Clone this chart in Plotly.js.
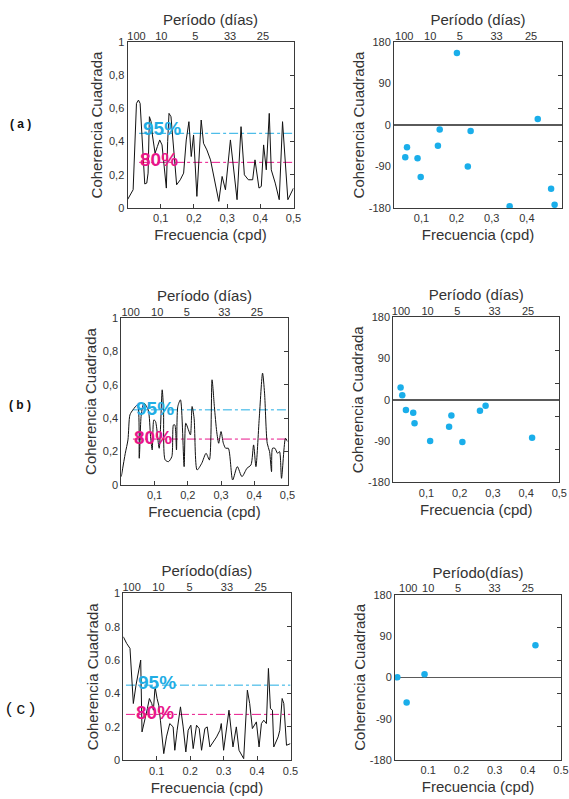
<!DOCTYPE html>
<html>
<head>
<meta charset="utf-8">
<script src="https://cdn.plot.ly/plotly-3.0.1.min.js"></script>
<style>html,body{margin:0;padding:0;background:#fff}#chart{width:569px;height:799px}</style>
</head>
<body>
<div id="chart"></div>
<script>
// ---------- DATA ----------
// (a) coherence spectrum
const freqA = [0, 0.017, 0.027, 0.033, 0.038, 0.045, 0.052, 0.058, 0.062, 0.066, 0.071, 0.075, 0.083, 0.090, 0.097, 0.104, 0.110, 0.117, 0.121, 0.125, 0.131, 0.138, 0.148, 0.159, 0.169, 0.177, 0.185, 0.192, 0.199, 0.209, 0.215, 0.222, 0.229, 0.239, 0.250, 0.262, 0.275, 0.285, 0.295, 0.310, 0.330, 0.342, 0.352, 0.364, 0.377, 0.384, 0.396, 0.403, 0.410, 0.418, 0.427, 0.433, 0.445, 0.457, 0.467, 0.483, 0.500];
const cohA  = [0.05, 0.11, 0.63, 0.65, 0.63, 0.40, 0.145, 0.15, 0.21, 0.55, 0.52, 0.44, 0.33, 0.37, 0.41, 0.38, 0.25, 0.12, 0.40, 0.57, 0.55, 0.40, 0.14, 0.17, 0.21, 0.41, 0.52, 0.31, 0.44, 0.07, 0.30, 0.53, 0.39, 0.35, 0.29, 0.17, 0.04, 0.19, 0.11, 0.41, 0.05, 0.49, 0.20, 0.17, 0.17, 0.29, 0.12, 0.13, 0.38, 0.23, 0.57, 0.23, 0.15, 0.05, 0.52, 0.05, 0.12];
// (b) coherence spectrum
const freqB = [0, 0.012, 0.020, 0.026, 0.035, 0.049, 0.054, 0.060, 0.068, 0.081, 0.088, 0.093, 0.098, 0.103, 0.114, 0.123, 0.127, 0.132, 0.142, 0.152, 0.157, 0.161, 0.166, 0.170, 0.178, 0.189, 0.194, 0.202, 0.208, 0.213, 0.219, 0.228, 0.242, 0.255, 0.265, 0.273, 0.280, 0.287, 0.293, 0.300, 0.307, 0.314, 0.322, 0.335, 0.349, 0.363, 0.378, 0.390, 0.398, 0.405, 0.415, 0.425, 0.431, 0.439, 0.446, 0.452, 0.455, 0.462, 0.470, 0.476, 0.482, 0.494, 0.500];
const cohB  = [0.05, 0.19, 0.27, 0.42, 0.45, 0.48, 0.16, 0.42, 0.49, 0.45, 0.29, 0.21, 0.39, 0.38, 0.22, 0.57, 0.45, 0.15, 0.14, 0.17, 0.36, 0.36, 0.21, 0.47, 0.51, 0.11, 0.37, 0.33, 0.30, 0.47, 0.40, 0.09, 0.13, 0.19, 0.15, 0.63, 0.47, 0.32, 0.25, 0.32, 0.25, 0.22, 0.22, 0.03, 0.11, 0.05, 0.10, 0.12, 0.24, 0.11, 0.40, 0.67, 0.55, 0.25, 0.20, 0.08, 0.22, 0.22, 0.19, 0.20, 0.04, 0.28, 0.26];
// (c) coherence spectrum
const freqC = [0, 0.010, 0.020, 0.030, 0.038, 0.045, 0.052, 0.056, 0.065, 0.072, 0.078, 0.085, 0.090, 0.095, 0.101, 0.106, 0.111, 0.121, 0.129, 0.139, 0.149, 0.154, 0.161, 0.171, 0.179, 0.187, 0.194, 0.202, 0.209, 0.219, 0.227, 0.234, 0.244, 0.251, 0.259, 0.279, 0.289, 0.293, 0.300, 0.316, 0.328, 0.338, 0.346, 0.360, 0.371, 0.378, 0.386, 0.398, 0.406, 0.413, 0.420, 0.428, 0.434, 0.440, 0.446, 0.450, 0.463, 0.468, 0.475, 0.480, 0.488, 0.500];
const cohC  = [0.74, 0.70, 0.67, 0.34, 0.45, 0.52, 0.60, 0.17, 0.24, 0.31, 0.37, 0.34, 0.30, 0.44, 0.37, 0.33, 0.24, 0.04, 0.14, 0.22, 0.20, 0.06, 0.18, 0.32, 0.20, 0.05, 0.18, 0.21, 0.07, 0.21, 0.19, 0.06, 0.19, 0.20, 0.08, 0.14, 0.18, 0.22, 0.06, 0.30, 0.08, 0.20, 0.06, 0.01, 0.42, 0.34, 0.19, 0.23, 0.08, 0.22, 0.24, 0.22, 0.55, 0.31, 0.30, 0.08, 0.14, 0.18, 0.37, 0.34, 0.09, 0.10];
// phase (degrees)
const phaseFreqA = [0.201, 0.431, 0.152, 0.240, 0.059, 0.147, 0.054, 0.089, 0.098, 0.232, 0.351, 0.469, 0.479];
const phaseA     = [156, 13, -10, -13, -48, -45, -70, -72, -113, -90, -176, -138, -173];
const phaseFreqB = [0.022, 0.027, 0.038, 0.060, 0.064, 0.111, 0.168, 0.175, 0.208, 0.261, 0.278, 0.418];
const phaseB     = [27, 10, -22, -28, -51, -90, -59, -34, -92, -24, -13, -83];
const phaseFreqC = [0.007, 0.035, 0.089, 0.423];
const phaseC     = [0, -55, 7, 70];
// significance levels
const level95 = 0.45;
const level80 = 0.275;
const levelStart = [0.035, 0.035, 0.008];
// tick labels
const freqTicks = [0.1, 0.2, 0.3, 0.4, 0.5];
const freqLabelsComma = ['0,1', '0,2', '0,3', '0,4', '0,5'];
const freqLabelsDot = ['0.1', '0.2', '0.3', '0.4', '0.5'];
const cohTicks = [0, 0.2, 0.4, 0.6, 0.8, 1];
const cohLabelsComma = ['0', '0,2', '0,4', '0,6', '0,8', '1'];
const cohLabelsDot = ['0', '0.2', '0.4', '0.6', '0.8', '1'];
const phaseTicks = [-180, -90, 0, 90, 180];
const phaseLabels = ['-180', '-90', '0', '90', '180'];
const periodLabels = ['100', '10', '5', '33', '25'];
const periodPosCohA = [0.027, 0.102, 0.204, 0.309, 0.408];
const periodPosCohB = [0.028, 0.108, 0.197, 0.310, 0.408];
const periodPosCohC = [0.025, 0.105, 0.198, 0.310, 0.411];
const periodPosPhA = [0.051, 0.125, 0.209, 0.314, 0.412];
const periodPosPhB = [0.023, 0.103, 0.193, 0.305, 0.406];
const periodPosPhC = [0.040, 0.100, 0.190, 0.300, 0.400];
const cohMirrorTicks = [0.2, 0.4, 0.6, 0.8];
const phaseMirrorTicks = [-108, -36, 36, 108];
const panelLabels = ['( a )', '( b )', '( c )'];

// ---------- LAYOUT ----------
const W = 569, H = 799;
const FONT = 'Liberation Sans, Arial, Helvetica, sans-serif';
const TXT = '#333333';
const AX = '#3a3a3a';
const CYAN = '#22ade4';
const MAG = '#e8168a';
const DOT = '#1aaeea';

const panels = [
  {kind:'coh', px:[127.5,293.5], py:[42,208], xr:[0,0.5], f:freqA, v:cohA, per:periodPosCohA, xl:freqLabelsComma, yl:cohLabelsComma, top:'Período (días)', row:0, shape:'linear'},
  {kind:'ph',  px:[394,562],     py:[42,208], xr:[0.022,0.5], f:phaseFreqA, v:phaseA, per:periodPosPhA, xl:freqLabelsComma, top:'Período (días)', row:0},
  {kind:'coh', px:[121.3,287.5], py:[318,485], xr:[0,0.5], f:freqB, v:cohB, per:periodPosCohB, xl:freqLabelsComma, yl:cohLabelsComma, top:'Período (días)', row:1, shape:'spline'},
  {kind:'ph',  px:[393.3,559.3], py:[317.3,482.3], xr:[0,0.5], f:phaseFreqB, v:phaseB, per:periodPosPhB, xl:freqLabelsComma, top:'Período (días)', row:1},
  {kind:'coh', px:[123.3,290.5], py:[593.3,760.3], xr:[0,0.5], f:freqC, v:cohC, per:periodPosCohC, xl:freqLabelsDot, yl:cohLabelsDot, top:'Período(días)', row:2, shape:'linear'},
  {kind:'ph',  px:[395,561],     py:[594.7,760], xr:[0,0.5], f:phaseFreqC, v:phaseC, per:periodPosPhC, xl:freqLabelsDot, top:'Período(días)', row:2}
];

const layout = {
  width: W, height: H,
  margin: {l:0, r:0, t:0, b:0},
  paper_bgcolor: '#ffffff', plot_bgcolor: '#ffffff',
  showlegend: false,
  font: {family: FONT, size: 11, color: TXT},
  annotations: [], shapes: []
};
const traces = [];
const tf = {family: FONT, size: 11, color: TXT};
const titleFont = {family: FONT, size: 15, color: TXT};

panels.forEach((p, i) => {
  const n1 = 2*i + 1, n2 = 2*i + 2;
  const xm = 'x' + n1, xt = 'x' + n2, ym = 'y' + n1, yr = 'y' + n2;
  const key = n => (n === 1 ? '' : n);
  const xdom = [p.px[0]/W, p.px[1]/W];
  const ydom = [1 - p.py[1]/H, 1 - p.py[0]/H];
  const yrange = p.kind === 'coh' ? [0, 1] : [-180, 180];

  layout['xaxis' + key(n1)] = {
    domain: xdom, range: p.xr, anchor: ym, fixedrange: true,
    tickmode: 'array', tickvals: freqTicks, ticktext: p.xl,
    ticks: p.kind === 'coh' ? 'inside' : '', ticklen: 4, tickcolor: AX,
    showline: true, linecolor: AX, linewidth: 1, mirror: false,
    showgrid: false, zeroline: false, tickfont: tf,
    title: {text: 'Frecuencia (cpd)', font: titleFont, standoff: 6}, automargin: false
  };
  layout['xaxis' + n2] = {
    overlaying: xm, side: 'top', anchor: ym, range: p.xr, fixedrange: true,
    tickmode: 'array', tickvals: p.per, ticktext: periodLabels,
    ticks: '', ticklabelstandoff: -3, showline: true, linecolor: AX, linewidth: 1,
    showgrid: false, zeroline: false, tickfont: tf,
    title: {text: p.top, font: titleFont, standoff: 0}, automargin: false
  };
  layout['yaxis' + key(n1)] = {
    domain: ydom, range: yrange, anchor: xm, fixedrange: true,
    tickmode: 'array', tickvals: p.kind === 'coh' ? cohTicks : phaseTicks,
    ticktext: p.kind === 'coh' ? p.yl : phaseLabels,
    ticks: '', showline: true, linecolor: AX, linewidth: 1,
    showgrid: false, tickfont: tf,
    zeroline: p.kind === 'ph', zerolinecolor: '#5a5a5a', zerolinewidth: 1.5,
    title: {text: 'Coherencia Cuadrada', font: titleFont, standoff: p.kind === 'coh' ? 2 : 0}, automargin: false
  };
  layout['yaxis' + n2] = {
    overlaying: ym, side: 'right', anchor: xm, range: yrange, fixedrange: true,
    tickmode: 'array', tickvals: p.kind === 'coh' ? cohMirrorTicks : phaseMirrorTicks,
    ticks: 'inside', ticklen: 4, tickcolor: AX, showticklabels: false,
    showline: true, linecolor: AX, linewidth: 1, showgrid: false, zeroline: false
  };

  if (p.kind === 'coh') {
    const s = levelStart[p.row];
    traces.push({x:[s, 0.5], y:[level95, level95], xaxis: xm, yaxis: ym, mode:'lines',
      line:{color: CYAN, width: 1, dash:'dashdot'}, hoverinfo:'skip'});
    traces.push({x:[s, 0.5], y:[level80, level80], xaxis: xm, yaxis: ym, mode:'lines',
      line:{color: MAG, width: 1, dash:'dashdot'}, hoverinfo:'skip'});
    traces.push({x: p.f, y: p.v, xaxis: xm, yaxis: ym, mode:'lines',
      line:{color:'#111111', width: 1, shape: p.shape, smoothing: 0.7}, name:'Coherencia'});
    // invisible helper traces so overlay axes are drawn
    traces.push({x: p.f, y: p.v, xaxis: xt, yaxis: ym, mode:'markers', marker:{opacity:0, size:1}, hoverinfo:'skip'});
    traces.push({x: p.f, y: p.v, xaxis: xm, yaxis: yr, mode:'markers', marker:{opacity:0, size:1}, hoverinfo:'skip'});
    const pos = [[0.040,0.476,0.031,0.29],[0.038,0.46,0.033,0.284],[0.038,0.468,0.033,0.284]][p.row];
    layout.annotations.push({xref: xm, yref: ym, x: pos[0], y: pos[1], xanchor:'left', yanchor:'middle',
      text:'<b>95%</b>', showarrow:false, font:{family: FONT, size: 19, color: CYAN}});
    layout.annotations.push({xref: xm, yref: ym, x: pos[2], y: pos[3], xanchor:'left', yanchor:'middle',
      text:'<b>80%</b>', showarrow:false, font:{family: FONT, size: 19, color: MAG}});
  } else {
    traces.push({x: p.f, y: p.v, xaxis: xm, yaxis: ym, mode:'markers',
      marker:{color: DOT, size: 6.5}, name:'Fase'});
    traces.push({x: p.f, y: p.v, xaxis: xt, yaxis: ym, mode:'markers', marker:{opacity:0, size:1}, hoverinfo:'skip'});
    traces.push({x: p.f, y: p.v, xaxis: xm, yaxis: yr, mode:'markers', marker:{opacity:0, size:1}, hoverinfo:'skip'});
  }
});

// panel labels
const labelY = [124, 405, 708];
panelLabels.forEach((t, r) => {
  layout.annotations.push({xref:'paper', yref:'paper', x: 20/W, y: 1 - labelY[r]/H,
    xanchor:'center', yanchor:'middle', text: r < 2 ? '<b>' + t + '</b>' : t, showarrow:false,
    font: r < 2 ? {family: FONT, size: 12, color:'#111'} : {family: FONT, size: 17, color:'#111'}});
});

Plotly.newPlot('chart', traces, layout, {staticPlot: true, displayModeBar: false});
</script>
</body>
</html>
